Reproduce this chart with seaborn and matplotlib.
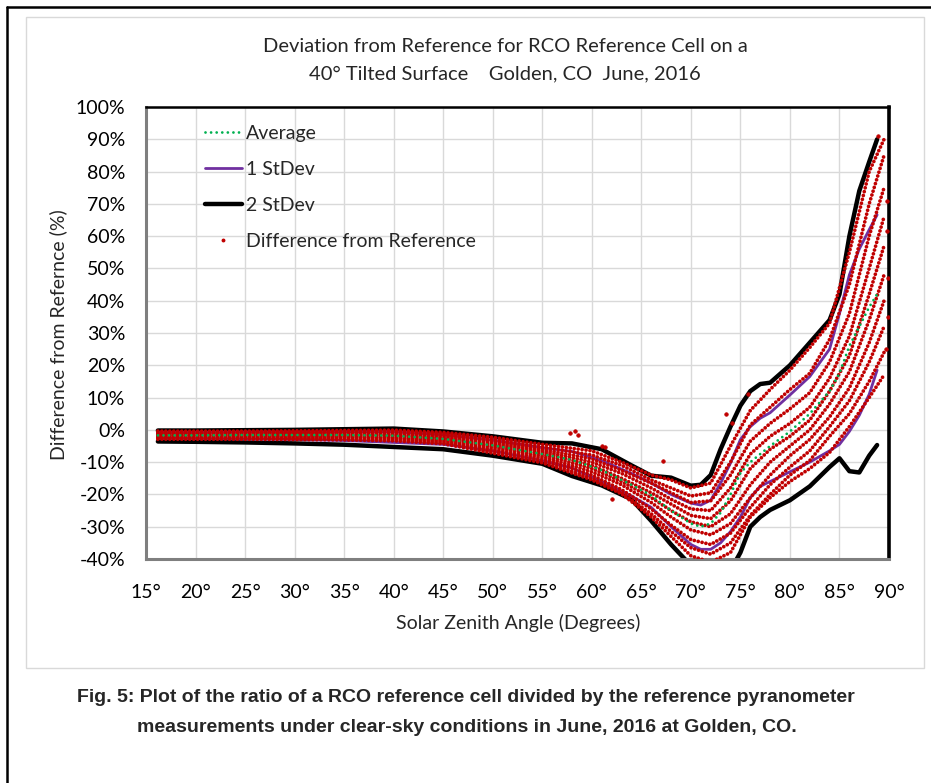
import matplotlib
matplotlib.use('Agg')
import matplotlib.pyplot as plt
import seaborn as sns
import numpy as np
import pandas as pd
from matplotlib.lines import Line2D
from matplotlib.patches import Rectangle

# angles for the smoothed statistic curves
line_ang = [16.2, 20, 25, 30, 35, 40, 45, 50, 55, 58, 61, 64, 66, 68, 70, 71, 72, 73, 74, 75,
            76, 77, 78, 80, 82, 84, 85, 86, 87, 88, 88.8]
avg = [-1.7, -1.7, -1.6, -1.6, -1.6, -1.8, -2.8, -4.8, -7.5, -9.3, -12.5, -17.0, -20.3, -25.0, -29.0, -30.0,
       -29.0, -25.7, -20.0, -13.4, -10.0, -7.5, -5.0, -0.5, 5.0, 12.0, 17.5, 26.0, 32.0, 38.0, 42.0]
sd1_hi = [-0.8, -0.8, -0.7, -0.7, -0.6, -0.6, -1.5, -3.2, -5.5, -6.7, -9.5, -13.5, -16.5, -20.0, -22.7, -23.3,
          -21.8, -16.5, -10.3, -3.0, 1.0, 3.6, 5.3, 10.8, 16.5, 25.0, 36.0, 48.0, 56.0, 62.0, 66.6]
sd1_lo = [-2.6, -2.7, -2.8, -3.0, -3.3, -3.9, -4.5, -6.5, -9.5, -11.8, -16.0, -20.5, -24.0, -30.0, -35.5, -37.0,
          -37.0, -35.0, -31.5, -27.0, -21.0, -17.5, -16.0, -13.0, -10.0, -6.5, -4.5, -0.5, 4.5, 11.0, 18.5]
sd2_hi = [-0.2, -0.2, -0.1, 0.0, 0.2, 0.4, -0.5, -2.0, -4.0, -4.2, -6.0, -11.0, -14.2, -14.8, -17.3, -17.0,
          -14.0, -6.0, 1.0, 7.5, 12.0, 14.2, 14.6, 20.0, 27.0, 34.0, 42.0, 60.0, 74.0, 83.0, 90.0]
sd2_lo = [-3.6, -3.7, -3.9, -4.2, -4.6, -5.3, -6.0, -8.0, -10.5, -14.3, -17.2, -21.5, -28.2, -35.5, -42.0, -45.0,
          -47.0, -47.0, -43.5, -38.0, -30.0, -27.0, -24.8, -21.8, -17.5, -11.5, -8.8, -12.8, -13.2, -8.0, -4.7]

# individual clear-sky days (difference from reference, %)
ang = [16.2, 20, 25, 30, 35, 40, 45, 50, 55, 60, 63, 66, 68, 70, 72, 74, 76, 78, 80, 82, 84, 86, 88, 89.5]
d01 = [-0.4, -0.4, -0.4, -0.3, -0.2, -0.1, -0.8, -2.3, -4.5, -6.5, -10.0, -14.0, -15.5, -18.0, -16.5, -5.0, 6.0, 12.5, 18.5, 25.5, 33.0, 55.0, 80.0, 90.0]
d02 = [-0.8, -0.8, -0.7, -0.7, -0.6, -0.5, -1.2, -2.9, -5.3, -7.8, -11.0, -15.5, -18.0, -20.5, -19.5, -10.0, 1.5, 7.0, 12.5, 17.5, 28.0, 45.0, 70.0, 85.0]
d03 = [-1.1, -1.1, -1.0, -1.0, -0.9, -0.9, -1.6, -3.4, -6.0, -9.0, -12.5, -16.5, -19.5, -22.5, -22.0, -14.0, -3.5, 2.0, 6.5, 11.5, 21.0, 36.0, 60.0, 75.0]
d04 = [-1.3, -1.3, -1.3, -1.2, -1.2, -1.3, -2.0, -3.9, -6.5, -10.0, -13.5, -18.0, -21.5, -24.5, -25.0, -18.0, -7.5, -2.0, 2.0, 7.0, 16.0, 29.0, 50.0, 66.0]
d05 = [-1.6, -1.6, -1.5, -1.5, -1.5, -1.6, -2.4, -4.4, -7.0, -11.0, -15.0, -19.5, -23.0, -26.5, -27.5, -22.0, -12.0, -6.0, -2.0, 3.0, 12.0, 23.0, 42.0, 57.0]
d06 = [-1.8, -1.8, -1.8, -1.8, -1.8, -1.9, -2.7, -4.9, -7.6, -12.0, -16.0, -21.0, -25.0, -28.5, -30.0, -26.0, -17.0, -10.0, -5.0, 0.0, 8.0, 18.0, 34.0, 48.0]
d07 = [-2.0, -2.0, -2.0, -2.1, -2.1, -2.3, -3.1, -5.4, -8.2, -13.0, -17.0, -22.5, -27.0, -31.0, -32.5, -29.0, -21.0, -14.0, -8.0, -3.0, 4.0, 13.0, 27.0, 40.0]
d08 = [-2.3, -2.3, -2.3, -2.4, -2.4, -2.6, -3.5, -6.0, -8.8, -14.0, -18.5, -24.5, -29.5, -34.0, -35.5, -32.0, -24.0, -17.0, -11.5, -6.5, 1.0, 9.0, 21.0, 32.0]
d09 = [-2.6, -2.6, -2.6, -2.7, -2.8, -3.0, -3.9, -6.6, -9.5, -15.0, -19.5, -26.0, -31.5, -36.5, -38.5, -35.0, -26.5, -20.0, -14.0, -9.5, -2.0, 5.0, 15.0, 24.0]
d10 = [-2.9, -2.9, -2.9, -3.0, -3.1, -3.4, -4.3, -7.2, -10.2, -15.5, -19.8, -27.0, -33.0, -39.0, -41.0, -38.0, -27.0, -21.0, -16.0, -12.0, -7.0, 1.0, 10.0, 17.0]

# stray points
out_x = [57.8, 58.3, 58.6, 61.0, 61.3, 62.0, 67.2, 73.5, 74.2, 75.8, 89.8, 89.8, 89.9, 89.7, 89.9, 88.9]
out_y = [-1.0, -0.5, -1.5, -5.0, -5.2, -21.5, -9.5, 5.0, 2.0, 11.0, 71.0, 61.5, 47.0, 25.0, 35.0, 91.0]

x_ticks = [15, 20, 25, 30, 35, 40, 45, 50, 55, 60, 65, 70, 75, 80, 85, 90]
y_ticks = [-40, -30, -20, -10, 0, 10, 20, 30, 40, 50, 60, 70, 80, 90, 100]

sns.set_style('white')
plt.rcParams['font.family'] = ['Lato', 'DejaVu Sans']

W, H = 931, 783
fig = plt.figure(figsize=(W / 100, H / 100), dpi=100)
ax = fig.add_axes([146 / W, 1 - 559 / H, (889 - 146) / W, (559 - 107) / H])

days = [d01, d02, d03, d04, d05, d06, d07, d08, d09, d10]
df = pd.DataFrame({
    'angle': np.tile(ang, len(days)),
    'diff': np.concatenate(days),
    'day': np.repeat(np.arange(len(days)), len(ang)),
})

green = '#00B050'
purple = '#7030A0'
red = '#C00000'

for yy in (sd2_hi, sd2_lo):
    sns.lineplot(x=line_ang, y=yy, ax=ax, color='black', lw=3.2, sort=False, legend=False, zorder=2)
for yy in (sd1_hi, sd1_lo):
    sns.lineplot(x=line_ang, y=yy, ax=ax, color=purple, lw=2.0, sort=False, legend=False, zorder=2)

sns.lineplot(data=df, x='angle', y='diff', units='day', estimator=None, sort=False, ax=ax,
             color=red, lw=2.7, linestyle=(0, (0.01, 1.05)), dash_capstyle='round',
             legend=False, zorder=3)
sns.scatterplot(x=out_x, y=out_y, ax=ax, color=red, s=7, edgecolor=red, linewidth=0.4, zorder=3)

sns.lineplot(x=line_ang, y=avg, ax=ax, color=green, lw=2.0, linestyle=(0, (0.01, 2.0)),
             dash_capstyle='round', sort=False, legend=False, zorder=4)

ax.set_xlim(15, 90)
ax.set_ylim(-40, 100)
ax.set_xticks(x_ticks)
ax.set_xticklabels([f'{v}°' for v in x_ticks])
ax.set_yticks(y_ticks)
ax.set_yticklabels([f'{v}%' for v in y_ticks])
ax.tick_params(length=0, labelsize=14, colors='black')
ax.tick_params(axis='y', pad=15)
ax.tick_params(axis='x', pad=18)
ax.grid(True, color='#d9d9d9', lw=1)
ax.set_axisbelow(True)
ax.set_xlabel('')
ax.set_ylabel('')

for s in ('left', 'bottom'):
    ax.spines[s].set_color('#7f7f7f')
    ax.spines[s].set_linewidth(2.2)
ax.spines['top'].set_color('black')
ax.spines['top'].set_linewidth(1.8)
ax.spines['right'].set_color('black')
ax.spines['right'].set_linewidth(2.6)

handles = [
    Line2D([], [], color=green, lw=2.0, linestyle=(0, (0.01, 2.0)), dash_capstyle='round'),
    Line2D([], [], color=purple, lw=2.0),
    Line2D([], [], color='black', lw=3.2),
    Line2D([], [], color=red, marker='o', ms=1.8, lw=0),
]
labels = ['Average', '1 StDev', '2 StDev', 'Difference from Reference']
ax.legend(handles, labels, loc='upper left', bbox_to_anchor=(0.079, 0.96), frameon=False,
          fontsize=14, handlelength=1.9, handletextpad=0.2, labelspacing=0.97,
          borderaxespad=0, borderpad=0)

fig.text(505 / W, 1 - 46 / H, 'Deviation from Reference for RCO Reference Cell on a',
         ha='center', va='center', fontsize=14.5)
fig.text(505 / W, 1 - 74 / H, '40° Tilted Surface    Golden, CO  June, 2016',
         ha='center', va='center', fontsize=14.5)
fig.text(518 / W, 1 - 623 / H, 'Solar Zenith Angle (Degrees)', ha='center', va='center', fontsize=14)
fig.text(58 / W, 1 - 335 / H, 'Difference from Refernce (%)', ha='center', va='center',
         rotation=90, fontsize=14)

fig.text(466 / W, 1 - 698 / H,
         'Fig. 5: Plot of the ratio of a RCO reference cell divided by the reference pyranometer',
         ha='center', va='center', fontsize=14, weight='bold', family=['Liberation Sans', 'DejaVu Sans'])
fig.text(467 / W, 1 - 728 / H,
         'measurements under clear-sky conditions in June, 2016 at Golden, CO.',
         ha='center', va='center', fontsize=14, weight='bold', family=['Liberation Sans', 'DejaVu Sans'])

# chart area and page borders
fig.add_artist(Rectangle((26 / W, 1 - 668 / H), (924 - 26) / W, (668 - 17) / H,
                         transform=fig.transFigure, fill=False, edgecolor='#d9d9d9', lw=1))
fig.add_artist(Line2D([7 / W, 7 / W], [0, 1 - 7 / H], transform=fig.transFigure, color='black', lw=1.8))
fig.add_artist(Line2D([7 / W, 1], [1 - 7 / H, 1 - 7 / H], transform=fig.transFigure, color='black', lw=1.8))

fig.savefig('out.png', dpi=100)
